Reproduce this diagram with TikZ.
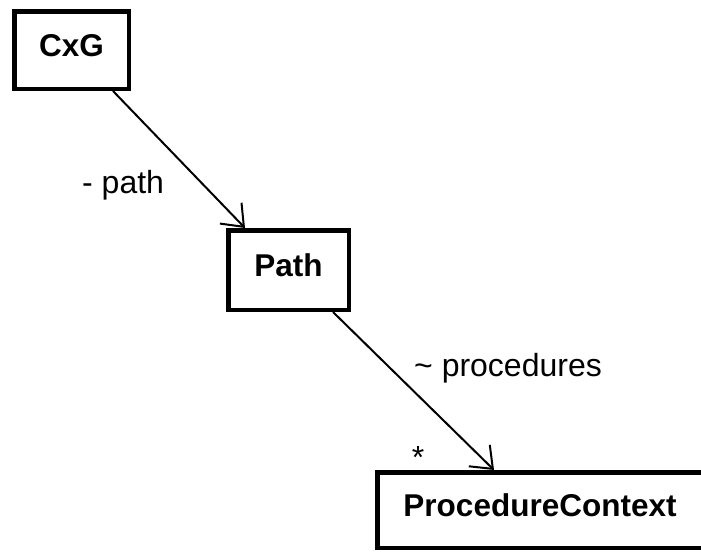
\documentclass[tikz,border=0pt]{standalone}
\usepackage{fontspec}
\setmainfont{Liberation Sans}
\usetikzlibrary{arrows.meta}
\begin{document}
\begin{tikzpicture}[x=1pt,y=-1pt,
  classbox/.style={draw=black, line width=4.5pt, fill=white, inner sep=0pt,
    text height=22pt, text depth=10pt,
    font=\fontsize{31.5}{36}\selectfont\bfseries},
  assoc/.style={draw=black, line width=2pt,
    -{Straight Barb[length=19pt,width=30pt,line width=2pt]}},
  rolelabel/.style={inner sep=0pt, font=\fontsize{32}{36}\selectfont}]
\useasboundingbox[fill=white] (0,0) rectangle (701,552);

% classes (the last one runs past the right edge of the page)
\node[classbox, minimum width=114.5pt, minimum height=77.5pt] (cxg) at (71.5,50) {CxG};
\node[classbox, minimum width=120.5pt, minimum height=79.5pt] (path) at (288.5,270) {Path};
\node[classbox, minimum width=348.5pt, minimum height=75.5pt] (pc) at (551.5,510)
  {\hspace*{-23pt}ProcedureContext};

% associations
\draw[assoc] ([xshift=101pt]cxg.south west) -- ([xshift=19pt]path.north west);
\draw[assoc] ([xshift=107pt]path.south west) -- ([xshift=119pt]pc.north west);

% role names and multiplicity
\node[rolelabel, anchor=base west] (rpath) at (82,193) {- path};
\node[rolelabel, anchor=base west] (rproc) at (414,376) {\textasciitilde\ procedures};
\node[rolelabel, anchor=base] (mult) at (418,468) {*};
\end{tikzpicture}
\end{document}
